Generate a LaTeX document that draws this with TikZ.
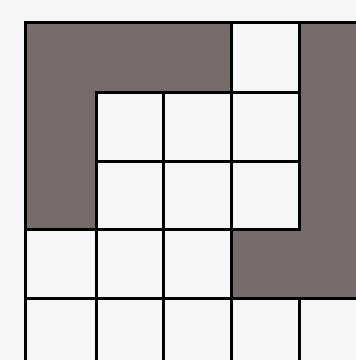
\documentclass[tikz,border=0pt]{standalone}

\definecolor{papel}{RGB}{247,246,246}
\definecolor{cinza}{RGB}{118,107,107}

\begin{document}
\begin{tikzpicture}[
      x=1pt, y=-1pt,
      linha/.style={line width=3pt, black},
      sombra/.style={fill=cinza},
      celula/.style={draw, line width=3pt, fill=papel}
    ]
    \useasboundingbox (0,0) rectangle (356,360);
    \clip (0,0) rectangle (356,360);
    \fill[papel] (0,0) rectangle (356,360);
    % shaded region
    \fill[sombra] (26,22) -- (232,22) -- (232,92) -- (97,92) -- (97,229) -- (26,229) -- cycle;
    \fill[sombra] (300,22) rectangle (370,298);
    \fill[sombra] (232,229) rectangle (300,298);
    % white cells
    \foreach \xa/\xb/\ya/\yb in {232/300/22/92,
        97/164/92/161, 164/232/92/161, 232/300/92/161,
        97/164/161/229, 164/232/161/229, 232/300/161/229,
        26/97/229/298, 97/164/229/298, 164/232/229/298,
        26/97/298/380, 97/164/298/380, 164/232/298/380, 232/300/298/380, 300/380/298/380}
      \draw[celula] (\xa,\ya) rectangle (\xb,\yb);
    % outer edges
    \draw[linha] (26,380) -- (26,22) -- (370,22);
  \end{tikzpicture}
\end{document}
